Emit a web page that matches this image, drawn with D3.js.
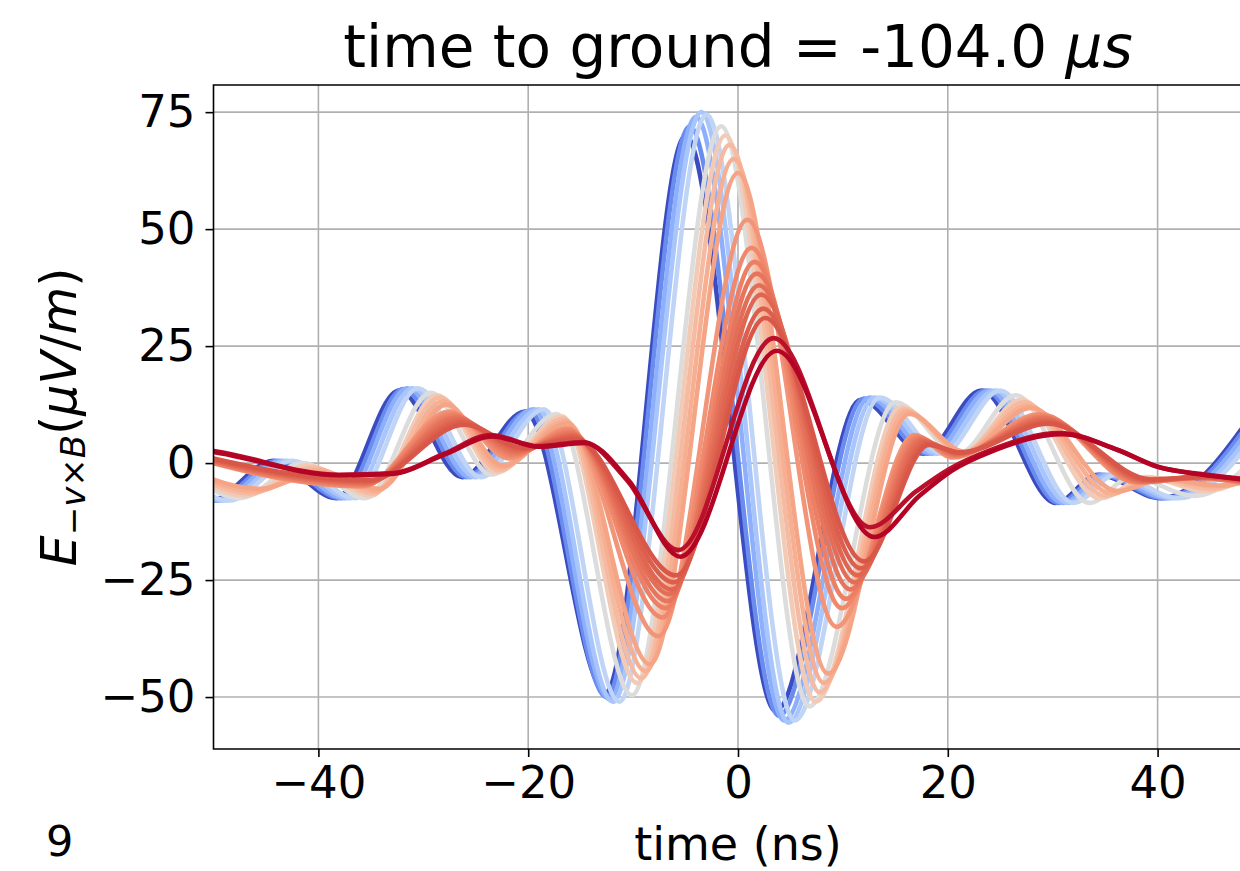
<!DOCTYPE html>
<html>
<head>
<meta charset="utf-8">
<script src="https://cdn.jsdelivr.net/npm/d3@7"></script>
<style>
  body { margin: 0; background: #fff; }
  text { font-family: "DejaVu Sans", sans-serif; fill: #000; }
</style>
</head>
<body>
<svg id="chart" width="1240" height="871"></svg>
<script>
// ---- data: [time (ns), E (uV/m)] at turning points of each trace
const wf00 = [[-55,2],[-50.3,-8],[-44.3,0.5],[-38.3,-7.5],[-32.3,15.5],[-26.3,-3],[-20.3,11],[-12.6,-49],[-5.0,70],[3.6,-53],[11.7,13.5],[17.7,2],[23.2,15.5],[30.3,-8.5],[34.3,-2.5],[40.3,-7.5],[49.8,13]];
const wf01 = [[-55,2],[-49.9,-8],[-43.9,0.5],[-37.9,-7.5],[-31.9,15.8],[-25.9,-3],[-19.9,11.2],[-12.5,-50],[-4.6,72],[3.9,-54],[12,13.8],[18.1,2],[23.6,15.5],[30.6,-8.5],[34.6,-2.5],[40.6,-7.5],[50.1,13]];
const wf02 = [[-55,2.5],[-49.5,-8],[-43.5,0.5],[-37.5,-7.5],[-31.5,16],[-25.5,-3],[-19.5,11.5],[-12.2,-50.5],[-4,74],[4.4,-55],[12.5,14],[18.5,2],[24,15.5],[31,-8.5],[35,-2.5],[41,-7.5],[50.5,13]];
const wf03 = [[-55,3],[-49,-8],[-43,0.5],[-37,-7.5],[-31,16],[-25,-3],[-19,11.5],[-11.9,-51],[-3.5,75],[4.8,-55.5],[13,14],[19,2],[24.5,15.5],[31.5,-8.5],[35.5,-2.5],[41.5,-7.5],[51,13]];
const wf04 = [[-55,3.5],[-48.5,-8],[-42.5,0.5],[-36.5,-7.5],[-30.5,16],[-24.5,-3],[-18.5,11.5],[-11.3,-51],[-3,74.5],[5.4,-55],[13.5,14],[19.5,2],[25,15.5],[32,-8.5],[36,-2.5],[42,-7.5],[51.5,13]];
const wf05 = [[-55,4],[-47.5,-7.5],[-41.5,0],[-35.5,-7.5],[-29.3,15],[-23.5,-2.5],[-17.3,10.5],[-10.1,-49.6],[-1.6,72],[6.8,-52],[15,13],[21,2],[26.5,14.5],[33.5,-8.5],[37.5,-3],[43.5,-7],[53,12]];
const wf06 = [[-55,3],[-47,-7],[-41,-0.5],[-35,-7],[-28.7,14.5],[-23,-2],[-16.8,10],[-9.6,-47],[-1.2,70],[7.4,-51],[15.5,12],[21.3,2],[27,13.5],[34.5,-7.5],[39,-3],[44.5,-6],[54,8]];
const wf07 = [[-55,2.5],[-46.5,-6.5],[-40.5,-1],[-34.8,-6.5],[-28.4,14],[-22.8,-1.5],[-16.6,9.5],[-9.2,-46],[-0.8,68],[7.8,-49],[15.8,11.5],[21.4,2.2],[27.3,13],[35,-7],[39.5,-3.2],[45,-5.5],[54,6]];
const wf08 = [[-55,2],[-46,-6],[-40,-1.5],[-34.5,-6],[-28.1,13.2],[-22.6,-1],[-16.4,9],[-8.8,-44.5],[-0.4,65],[8.2,-47],[16,11],[21.5,2.3],[27.6,12.3],[35.6,-6.5],[40,-3.3],[45.5,-5],[54,4]];
const wf09 = [[-55,1.5],[-45.5,-5.5],[-40,-2],[-34.2,-5.5],[-27.8,12.5],[-22.4,-0.5],[-16.2,8.5],[-8.4,-43],[0,62],[8.6,-45],[16.3,10.5],[21.6,2.4],[27.9,11.8],[36.2,-6],[40.5,-3.4],[46,-4.8],[54,2]];
const wf10 = [[-55,3],[-35.8,-5],[-27.5,11],[-21.8,1],[-16.2,7.5],[-7.6,-37],[0.9,52],[9.4,-35],[16.8,6],[20.5,1.2],[28.8,10.5],[38,-4.2],[43.5,-3.2],[50,-5]];
const wf11 = [[-55,3],[-35.7,-4.8],[-27.3,10.6],[-21.6,1.5],[-16.1,7.1],[-7.2,-33],[1.3,46],[9.9,-31],[17,5.7],[20.6,1.4],[29,10.2],[38.2,-4.1],[43.7,-3.2],[50,-4.9]];
const wf12 = [[-55,3],[-35.6,-4.6],[-27.1,10.2],[-21.4,1.9],[-16,6.7],[-6.9,-31],[1.6,43],[10.3,-29],[17.2,5.4],[20.7,1.6],[29.1,9.9],[38.4,-4],[43.8,-3.1],[50,-4.8]];
const wf13 = [[-55,3.2],[-35.5,-4.4],[-26.9,9.8],[-21.2,2.3],[-15.9,6.3],[-6.7,-29.5],[1.8,40.5],[10.7,-27],[17.4,5.1],[20.8,1.8],[29.2,9.6],[38.6,-3.9],[44,-3.1],[50,-4.7]];
const wf14 = [[-55,3.3],[-35.4,-4.2],[-26.7,9.4],[-21,2.6],[-15.8,6],[-6.5,-28],[2,38],[11.1,-25.5],[17.6,4.8],[20.9,2],[29.3,9.3],[38.8,-3.8],[44.2,-3],[50,-4.6]];
const wf15 = [[-55,3.4],[-35.3,-4],[-26.5,9],[-20.8,2.9],[-15.7,5.7],[-6.3,-27],[2.2,36],[11.4,-24],[17.8,4.5],[21,2.1],[29.4,9],[39,-3.7],[44.4,-3],[50,-4.5]];
const wf16 = [[-55,3.5],[-35.2,-3.8],[-26.3,8.6],[-20.6,3.1],[-15.6,5.4],[-6.1,-25.5],[2.4,33],[11.7,-22.5],[18,4.2],[21.1,2.2],[29.5,8.7],[39.2,-3.6],[44.6,-2.9],[50,-4.4]];
const wf17 = [[-55,3.6],[-35.1,-3.6],[-26.1,8.2],[-20.4,3.3],[-15.5,5.1],[-5.9,-24],[2.6,31],[12,-21],[18.2,3.9],[21.2,2.3],[29.6,8.4],[39.4,-3.5],[44.8,-2.9],[50,-4.3]];
const wf18 = [[-55,4],[-50,2.6],[-38,-2.5],[-33,-2.2],[-28,2],[-23.6,6],[-19,3.6],[-14.8,4.5],[-10.6,-3.6],[-5.7,-18.6],[3.4,26.7],[12.6,-13.7],[17,-6],[20.2,-1.2],[24,2.7],[30.7,6.4],[36,3],[40,-0.8],[44,-2.3],[50,-3.8]];
const wf19 = [[-55,4],[-50,2.4],[-38,-2.6],[-33,-2.3],[-28,1.8],[-23.4,5.7],[-19,3.5],[-14.6,4.3],[-10.4,-3.8],[-5.5,-20],[3.7,24],[13,-15.8],[17.3,-7],[20.4,-1.6],[24.2,2.5],[30.9,6.2],[36.2,2.8],[40.2,-0.9],[44,-2.4],[50,-3.9]];

const waveforms = [wf00, wf01, wf02, wf03, wf04, wf05, wf06, wf07, wf08, wf09,
                   wf10, wf11, wf12, wf13, wf14, wf15, wf16, wf17, wf18, wf19];
// position of each trace on the coolwarm colour map
const colorValues = [0.0, 0.15, 0.25, 0.33, 0.4, 0.5, 0.6, 0.65, 0.69, 0.72,
                     0.76, 0.79, 0.81, 0.83, 0.845, 0.86, 0.875, 0.89, 0.985, 1.0];
const xTicks = [-40, -20, 0, 20, 40];
const yTicks = [-50, -25, 0, 25, 50, 75];

// ---- layout
const W = 1240, H = 871;
const plot = { left: 213.5, right: 1262.5, top: 85, bottom: 749 };
const tickFont = 45;

const svg = d3.select("#chart");
svg.append("rect").attr("width", W).attr("height", H).attr("fill", "#fff");

const x = d3.scaleLinear().domain([-50, 50]).range([plot.left, plot.right]);
const y = d3.scaleLinear().domain([-61.1, 80.8]).range([plot.bottom, plot.top]);

// matplotlib coolwarm
const coolwarm = d3.scaleLinear()
    .domain(d3.range(11).map(i => i / 10))
    .range(["#3b4cc0", "#5a78e4", "#7b9ff9", "#9ebeff", "#c0d4f5", "#dddcdc",
            "#f2cbb7", "#f7ac8e", "#ee8468", "#d65244", "#b40426"])
    .interpolate(d3.interpolateRgb);

svg.append("clipPath").attr("id", "clip")
    .append("rect")
    .attr("x", plot.left).attr("y", plot.top)
    .attr("width", plot.right - plot.left).attr("height", plot.bottom - plot.top);

// grid
const grid = svg.append("g").attr("stroke", "#b0b0b0").attr("stroke-width", 1.6);
grid.selectAll(".gx").data(xTicks).join("line")
    .attr("x1", d => x(d)).attr("x2", d => x(d))
    .attr("y1", plot.top).attr("y2", plot.bottom);
grid.selectAll(".gy").data(yTicks).join("line")
    .attr("x1", plot.left).attr("x2", plot.right)
    .attr("y1", d => y(d)).attr("y2", d => y(d));

// traces
const line = d3.line()
    .x(d => x(d[0]))
    .y(d => y(d[1]))
    .curve(d3.curveMonotoneX);

svg.append("g").attr("clip-path", "url(#clip)")
    .selectAll("path")
    .data(waveforms)
    .join("path")
    .attr("d", line)
    .attr("fill", "none")
    .attr("stroke", (d, i) => coolwarm(colorValues[i]))
    .attr("stroke-width", 4.6)
    .attr("stroke-linejoin", "round");

// spines
const spines = svg.append("g").attr("stroke", "#000").attr("stroke-width", 1.6).attr("fill", "none");
spines.append("path")
    .attr("d", `M${plot.right},${plot.top}H${plot.left}V${plot.bottom}H${plot.right}`);

// axes ticks + labels
const xAxis = svg.append("g")
    .attr("transform", `translate(0,${plot.bottom})`)
    .call(d3.axisBottom(x).tickValues(xTicks).tickSize(8).tickPadding(9)
        .tickFormat(d => d < 0 ? "\u2212" + Math.abs(d) : d));
const yAxis = svg.append("g")
    .attr("transform", `translate(${plot.left},0)`)
    .call(d3.axisLeft(y).tickValues(yTicks).tickSize(8).tickPadding(10)
        .tickFormat(d => d < 0 ? "\u2212" + Math.abs(d) : d));
[xAxis, yAxis].forEach(a => {
    a.select(".domain").remove();
    a.selectAll(".tick line").attr("stroke", "#000").attr("stroke-width", 1.6);
    a.selectAll(".tick text").attr("font-size", tickFont)
        .attr("font-family", "DejaVu Sans").attr("fill", "#000");
});

// title
const title = svg.append("text")
    .attr("x", (plot.left + plot.right) / 2).attr("y", 67)
    .attr("text-anchor", "middle").attr("font-size", 58);
title.append("tspan").text("time to ground = -104.0 ");
title.append("tspan").attr("font-style", "italic").text("\u03bcs");

// x label
svg.append("text")
    .attr("x", (plot.left + plot.right) / 2).attr("y", 860)
    .attr("text-anchor", "middle").attr("font-size", 46)
    .text("time (ns)");

// y label
const yl = svg.append("text")
    .attr("transform", `translate(76,${(plot.top + plot.bottom) / 2}) rotate(-90)`)
    .attr("text-anchor", "middle").attr("font-size", 49);
yl.append("tspan").attr("font-style", "italic").text("E");
const sub = yl.append("tspan").attr("font-size", 34).attr("dy", 9);
sub.append("tspan").text("\u2212");
sub.append("tspan").attr("font-style", "italic").text("v");
sub.append("tspan").text("\u00d7");
sub.append("tspan").attr("font-style", "italic").text("B");
yl.append("tspan").attr("dy", -9).text("(");
yl.append("tspan").attr("font-style", "italic").text("\u03bcV");
yl.append("tspan").text("/");
yl.append("tspan").attr("font-style", "italic").text("m");
yl.append("tspan").text(")");

// panel number
svg.append("text").attr("x", 46).attr("y", 856).attr("font-size", 43).text("9");
</script>
</body>
</html>
